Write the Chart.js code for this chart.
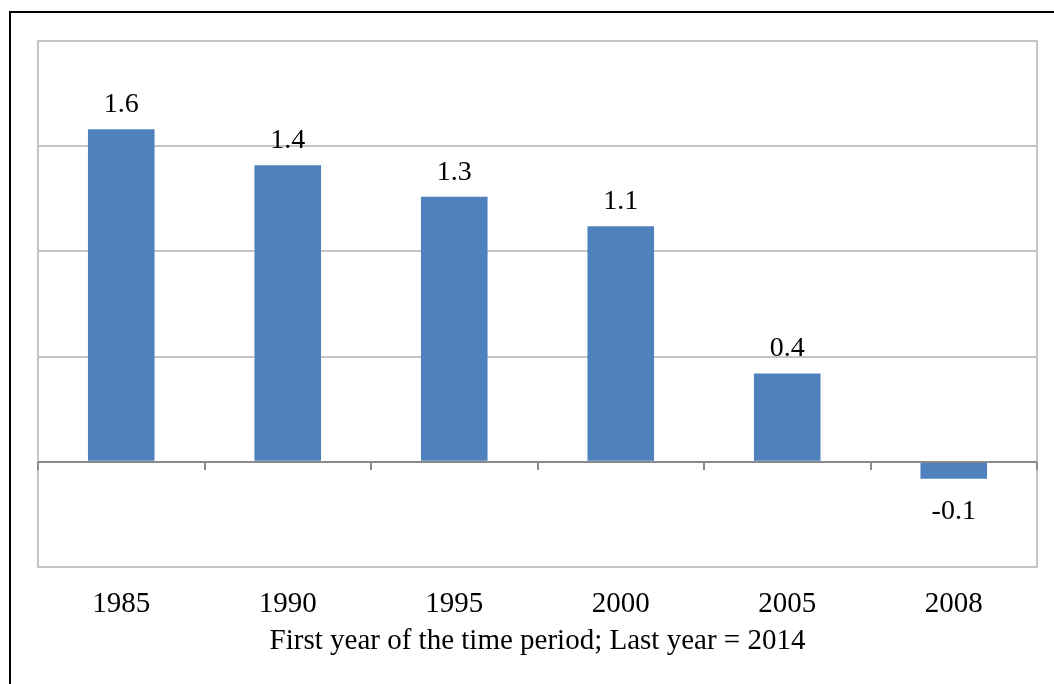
<!DOCTYPE html>
<html>
<head>
<meta charset="utf-8">
<script src="https://cdn.jsdelivr.net/npm/chart.js@4/dist/chart.umd.min.js"></script>
<style>
  html, body { margin: 0; padding: 0; background: #ffffff; }
  #wrap { width: 1054px; height: 684px; position: relative; }
  canvas { display: block; }
</style>
</head>
<body>
<div id="wrap"><canvas id="c" width="1054" height="684"></canvas></div>
<script>
// Start year of each period (period always ends in 2014)
const startYears = ['1985', '1990', '1995', '2000', '2005', '2008'];
// Average annual growth over the period, in percent
const growth = [1.58, 1.41, 1.26, 1.12, 0.42, -0.08];
// Value axis range and grid spacing
const yMin = -0.5;
const yMax = 2.0;
const yStep = 0.5;

const serif = '"Liberation Serif", "Times New Roman", Times, serif';
const barBlue = '#4F81BD';
const gridGray = '#c4c4c4';
const zeroGray = '#8a8a8a';

// Outer frame around the whole figure
const framePlugin = {
  id: 'frame',
  afterDraw(chart) {
    const ctx = chart.ctx;
    ctx.save();
    ctx.strokeStyle = '#000000';
    ctx.lineWidth = 2;
    ctx.strokeRect(10, 12, 1060, 700);
    ctx.restore();
  }
};

// Plot border, zero axis line and category tick marks on it
const axisPlugin = {
  id: 'zeroAxis',
  beforeDatasetsDraw(chart) {
    const {ctx, chartArea: a} = chart;
    ctx.save();
    ctx.strokeStyle = gridGray;
    ctx.lineWidth = 2;
    ctx.strokeRect(a.left, a.top, a.right - a.left, a.bottom - a.top);
    ctx.restore();
  },
  afterDatasetsDraw(chart) {
    const {ctx, chartArea: a, scales: {y}} = chart;
    const y0 = Math.round(y.getPixelForValue(0));
    ctx.save();
    ctx.strokeStyle = zeroGray;
    ctx.lineWidth = 2;
    ctx.beginPath();
    ctx.moveTo(a.left, y0);
    ctx.lineTo(a.right, y0);
    const n = startYears.length;
    const w = (a.right - a.left) / n;
    for (let i = 0; i <= n; i++) {
      const px = Math.round(a.left + i * w);
      ctx.moveTo(px, y0);
      ctx.lineTo(px, y0 + 8);
    }
    ctx.stroke();
    ctx.restore();
  }
};

// Value labels above positive bars and below negative ones
const labelPlugin = {
  id: 'valueLabels',
  afterDatasetsDraw(chart) {
    const ctx = chart.ctx;
    const meta = chart.getDatasetMeta(0);
    ctx.save();
    ctx.fillStyle = '#000000';
    ctx.font = '28px ' + serif;
    ctx.textAlign = 'center';
    ctx.textBaseline = 'alphabetic';
    meta.data.forEach((bar, i) => {
      const v = growth[i];
      const txt = v.toFixed(1);
      if (v >= 0) {
        ctx.fillText(txt, bar.x, bar.y - 17);
      } else {
        ctx.fillText(txt, bar.x, bar.y + 40);
      }
    });
    ctx.restore();
  }
};

new Chart(document.getElementById('c'), {
  type: 'bar',
  data: {
    labels: startYears,
    datasets: [{
      data: growth,
      backgroundColor: barBlue,
      borderWidth: 0,
      barPercentage: 0.4,
      categoryPercentage: 1.0
    }]
  },
  options: {
    responsive: false,
    animation: false,
    devicePixelRatio: 1,
    layout: { padding: { left: 38, top: 41, right: 17, bottom: 0 } },
    plugins: {
      legend: { display: false },
      tooltip: { enabled: false }
    },
    scales: {
      x: {
        grid: { display: false, drawTicks: false },
        border: { display: false },
        ticks: {
          color: '#000000',
          font: { family: serif, size: 29 },
          padding: 20
        },
        title: {
          display: true,
          text: 'First year of the time period; Last year = 2014',
          color: '#000000',
          font: { family: serif, size: 29 },
          padding: { top: 0, bottom: 25 }
        },
        afterFit(scale) { scale.height = 684 - 567; }
      },
      y: {
        min: yMin,
        max: yMax,
        ticks: { display: false, stepSize: yStep },
        grid: {
          color: gridGray,
          lineWidth: 2,
          drawTicks: false
        },
        border: { display: false },
        afterFit(scale) { scale.width = 0; }
      }
    }
  },
  plugins: [axisPlugin, labelPlugin, framePlugin]
});
</script>
</body>
</html>
